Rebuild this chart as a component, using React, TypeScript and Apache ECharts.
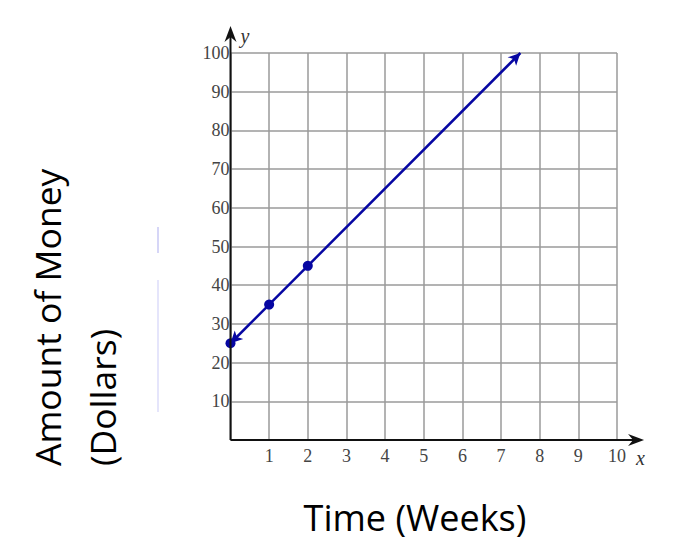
import React, { useEffect, useRef } from "react";
import * as echarts from "echarts";

const xTicks = [0, 1, 2, 3, 4, 5, 6, 7, 8, 9, 10];
const yTicks = [0, 10, 20, 30, 40, 50, 60, 70, 80, 90, 100];
const pointsX = [0, 1, 2];
const pointsY = [25, 35, 45];
const lineStart = [0, 25];
const lineEnd = [7.5, 100];
const xAxisExtent = 10.7;
const yAxisExtent = 107;
const yTitle = "Amount of Money";
const yTitle2 = "(Dollars)";
const xTitle = "Time (Weeks)";

const SERIF = "'Liberation Serif', 'Times New Roman', serif";
const SANS = "'Open Sans', 'Noto Sans', sans-serif";
const BLUE = "#0606a2";

export default function App() {
  const ref = useRef<HTMLDivElement>(null);
  useEffect(() => {
    document.body.style.margin = "0";
    const chart = echarts.init(ref.current!, null, { renderer: "svg" });
    const option: any = {
      animation: false,
      backgroundColor: "#ffffff",
      grid: { left: 230.5, right: 62, top: 53, bottom: 119, containLabel: false },
      xAxis: {
        type: "value",
        min: xTicks[0],
        max: xTicks[xTicks.length - 1],
        interval: 1,
        axisLine: { show: false },
        axisTick: { show: false },
        splitLine: { show: true, lineStyle: { color: "#9a9a9a", width: 1.5 } },
        axisLabel: {
          margin: 7,
          fontFamily: SERIF,
          fontSize: 18,
          color: "#444",
          formatter: (v: number) => (v === 0 ? "" : String(v)),
        },
      },
      yAxis: {
        type: "value",
        min: yTicks[0],
        max: yTicks[yTicks.length - 1],
        interval: 10,
        axisLine: { show: false },
        axisTick: { show: false },
        splitLine: { show: true, lineStyle: { color: "#9a9a9a", width: 1.5 } },
        axisLabel: {
          margin: 1,
          fontFamily: SERIF,
          fontSize: 18,
          color: "#444",
          formatter: (v: number) => (v === 0 ? "" : String(v)),
        },
      },
      series: [
        {
          type: "scatter",
          data: pointsX.map((x, i) => [x, pointsY[i]]),
          symbol: "circle",
          symbolSize: 10,
          itemStyle: { color: BLUE, opacity: 1 },
          clip: false,
          z: 5,
          markLine: {
            silent: true,
            symbol: ["arrow", "arrow"],
            symbolSize: [9, 12],
            label: { show: false },
            lineStyle: { color: BLUE, width: 2.5, type: "solid", opacity: 1 },
            data: [[{ coord: lineStart }, { coord: lineEnd }]],
          },
        },
      ],
    };
    chart.setOption(option);

    const o = chart.convertToPixel({ gridIndex: 0 }, [0, 0]) as number[];
    const xe = chart.convertToPixel({ gridIndex: 0 }, [xAxisExtent, 0]) as number[];
    const ye = chart.convertToPixel({ gridIndex: 0 }, [0, yAxisExtent]) as number[];

    chart.setOption({
      graphic: [
        {
          type: "line",
          shape: { x1: o[0], y1: o[1], x2: xe[0] - 6, y2: o[1] },
          style: { stroke: "#111", lineWidth: 2 },
          z: 10,
        },
        {
          type: "polygon",
          shape: {
            points: [
              [xe[0], o[1]],
              [xe[0] - 16, o[1] - 6],
              [xe[0] - 11, o[1]],
              [xe[0] - 16, o[1] + 6],
            ],
          },
          style: { fill: "#111" },
          z: 10,
        },
        {
          type: "line",
          shape: { x1: o[0], y1: o[1], x2: o[0], y2: ye[1] + 6 },
          style: { stroke: "#111", lineWidth: 2 },
          z: 10,
        },
        {
          type: "polygon",
          shape: {
            points: [
              [o[0], ye[1]],
              [o[0] - 6, ye[1] + 16],
              [o[0], ye[1] + 11],
              [o[0] + 6, ye[1] + 16],
            ],
          },
          style: { fill: "#111" },
          z: 10,
        },
        {
          type: "text",
          x: xe[0] - 8,
          y: o[1] + 18,
          style: {
            text: "x",
            font: "italic 20px " + SERIF,
            fill: "#333",
            align: "left",
            verticalAlign: "middle",
          },
        },
        {
          type: "text",
          x: o[0] + 10,
          y: ye[1] + 10,
          style: {
            text: "y",
            font: "italic 20px " + SERIF,
            fill: "#333",
            align: "left",
            verticalAlign: "middle",
          },
        },
        {
          type: "text",
          x: 47,
          y: 466,
          rotation: Math.PI / 2,
          style: {
            text: yTitle,
            font: "35.5px " + SANS,
            fill: "#000",
            align: "left",
            verticalAlign: "middle",
          },
        },
        {
          type: "text",
          x: 102,
          y: 466,
          rotation: Math.PI / 2,
          style: {
            text: yTitle2,
            font: "35.5px " + SANS,
            fill: "#000",
            align: "left",
            verticalAlign: "middle",
          },
        },
        {
          type: "text",
          x: 415,
          y: 517,
          style: {
            text: xTitle,
            font: "36px " + SANS,
            fill: "#000",
            align: "center",
            verticalAlign: "middle",
          },
        },
        {
          type: "line",
          shape: { x1: 158, y1: 227, x2: 158, y2: 253 },
          style: { stroke: "#c8c8f4", lineWidth: 1.5 },
        },
        {
          type: "line",
          shape: { x1: 158, y1: 280, x2: 158, y2: 412 },
          style: { stroke: "#dcdcfa", lineWidth: 1.5 },
        },
      ],
    });
    return () => chart.dispose();
  }, []);
  return (
    <div
      ref={ref}
      style={{ position: "fixed", left: 0, top: 0, width: 679, height: 559 }}
    />
  );
}
